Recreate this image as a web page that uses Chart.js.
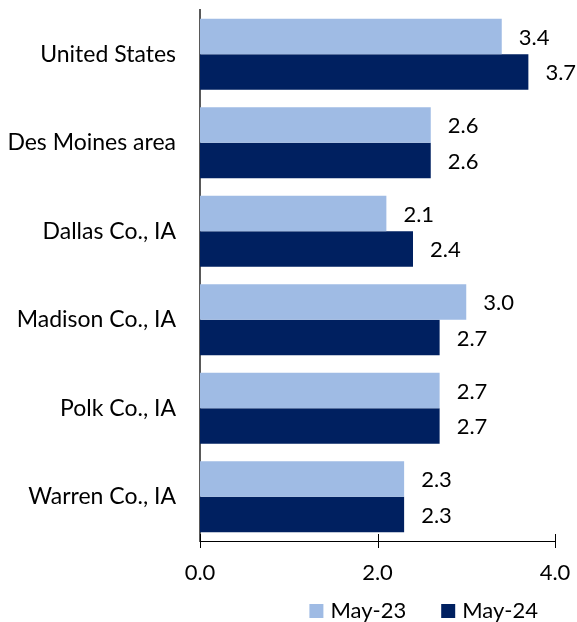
<!DOCTYPE html>
<html>
<head>
<meta charset="utf-8">
<script src="https://cdn.jsdelivr.net/npm/chart.js@4"></script>
<style>
  html, body { margin: 0; padding: 0; background: #fff; }
  .wrapper { width: 577px; height: 622px; }
</style>
</head>
<body>
<div class="wrapper"><canvas id="Chart" width="577" height="622"></canvas></div>
<script>
const areas = ["United States", "Des Moines area", "Dallas Co., IA", "Madison Co., IA", "Polk Co., IA", "Warren Co., IA"];
const may23 = [3.4, 2.6, 2.1, 3.0, 2.7, 2.3];
const may24 = [3.7, 2.6, 2.4, 2.7, 2.7, 2.3];
const xTicks = [0, 2, 4];

const fontFamily = "Lato, 'Open Sans', sans-serif";

// value labels to the right of each bar
const valueLabels = {
  id: 'valueLabels',
  afterDatasetsDraw(chart) {
    const ctx = chart.ctx;
    ctx.save();
    ctx.font = "22px " + fontFamily;
    ctx.fillStyle = "#000";
    ctx.textAlign = "left";
    ctx.textBaseline = "middle";
    chart.data.datasets.forEach(function(ds, i) {
      chart.getDatasetMeta(i).data.forEach(function(bar, j) {
        ctx.fillText(ds.data[j].toFixed(1), bar.x + 17, bar.y + 1);
      });
    });
    ctx.restore();
  }
};

// cross tick marks on the value axis
const crossTicks = {
  id: 'crossTicks',
  afterDraw(chart) {
    const x = chart.scales.x;
    const ctx = chart.ctx;
    ctx.save();
    ctx.strokeStyle = "#000";
    ctx.lineWidth = 1;
    xTicks.forEach(function(v) {
      const px = Math.round(x.getPixelForValue(v)) + 0.5;
      ctx.beginPath();
      ctx.moveTo(px, x.top - 7);
      ctx.lineTo(px, x.top + 7);
      ctx.stroke();
    });
    ctx.restore();
  }
};

// legend below the chart, square keys
const bottomLegend = {
  id: 'bottomLegend',
  afterDraw(chart) {
    const ctx = chart.ctx;
    const box = 14, gap = 7, spacing = 35;
    const cy = chart.height - 11;
    ctx.save();
    ctx.font = "22px " + fontFamily;
    ctx.textBaseline = "middle";
    ctx.textAlign = "left";
    const items = chart.data.datasets;
    let total = 0;
    items.forEach(function(ds, i) {
      total += box + gap + ctx.measureText(ds.label).width + (i < items.length - 1 ? spacing : 0);
    });
    let x = chart.chartArea.right - 17 - total;
    items.forEach(function(ds) {
      ctx.fillStyle = ds.backgroundColor;
      ctx.fillRect(x, cy - box / 2, box, box);
      x += box + gap;
      ctx.fillStyle = "#000";
      ctx.fillText(ds.label, x, cy);
      x += ctx.measureText(ds.label).width + spacing;
    });
    ctx.restore();
  }
};

function noPad(scale) {
  scale.paddingTop = 0;
  scale.paddingBottom = 0;
  scale.paddingLeft = 0;
  scale.paddingRight = 0;
}

new Chart(document.getElementById("Chart"), {
  type: 'bar',
  data: {
    labels: areas,
    datasets: [{
      label: "May-23",
      data: may23,
      backgroundColor: "#9FBBE4",
      borderWidth: 0
    }, {
      label: "May-24",
      data: may24,
      backgroundColor: "#002060",
      borderWidth: 0
    }]
  },
  options: {
    indexAxis: 'y',
    responsive: false,
    animation: false,
    layout: { padding: { top: 10, right: 22, bottom: 41, left: 0 } },
    datasets: { bar: { categoryPercentage: 0.8, barPercentage: 1.0 } },
    scales: {
      x: {
        min: 0,
        max: 4,
        afterBuildTicks(scale) { scale.ticks = xTicks.map(function(v) { return { value: v }; }); },
        afterFit(scale) { scale.height = 40; noPad(scale); },
        grid: { display: false, drawTicks: false },
        border: { display: true, color: "#000", width: 1 },
        ticks: {
          padding: 19,
          color: "#000",
          font: { family: fontFamily, size: 22 },
          callback: function(v) { return Number(v).toFixed(1); }
        }
      },
      y: {
        afterFit(scale) { scale.width = 200; noPad(scale); },
        grid: { display: false, drawTicks: false },
        border: { display: true, color: "#595959", width: 2 },
        ticks: {
          padding: 24,
          color: "#000",
          font: { family: fontFamily, size: 23 }
        }
      }
    },
    plugins: {
      tooltip: { enabled: false },
      legend: { display: false }
    }
  },
  plugins: [valueLabels, crossTicks, bottomLegend]
});
</script>
</body>
</html>
